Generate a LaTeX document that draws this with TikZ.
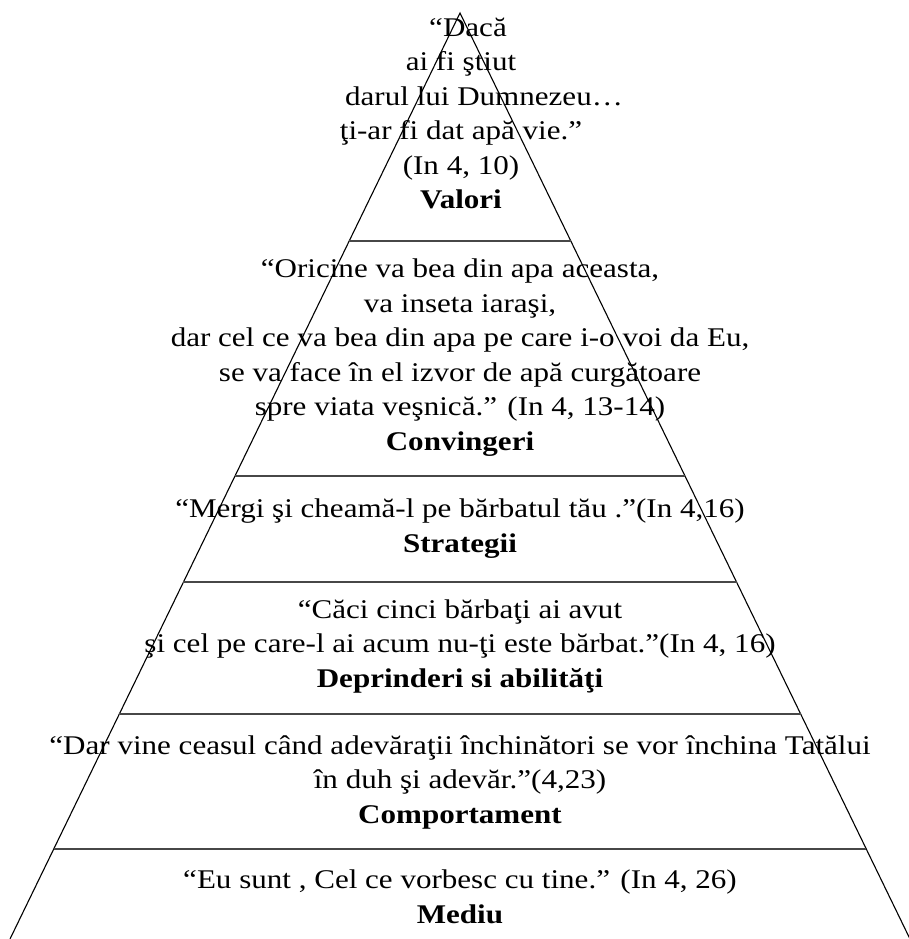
\documentclass[tikz,border=0pt]{standalone}
\usepackage{fontspec}
\setmainfont{Liberation Serif}[FakeStretch=1.15]
\usetikzlibrary{calc}
\tikzset{
  side/.style={line width=1.1pt, black},
  level/.style={line width=1.5pt, black!72},
  txt/.style={align=center, inner sep=0pt, anchor=base, font=\fontsize{27}{34.5}\selectfont}
}
\begin{document}
\begin{tikzpicture}[x=1pt,y=-1pt]
\useasboundingbox (0,0) rectangle (908,939);
\coordinate (apex) at (460,13);
\coordinate (bl) at (10,939);
\coordinate (br) at (910,939);
\draw[side] (bl) -- (apex) -- (br);
\foreach \t/\n in {0.2462/a,0.5/b,0.6145/c,0.757/d,0.9028/e}{
  \coordinate (L\n) at ($(apex)!\t!(bl)$);
  \coordinate (R\n) at ($(apex)!\t!(br)$);
  \draw[level] (L\n) -- (R\n);
}
\node[txt] (valori) at (461,208.5) {\hspace*{14pt}“Dacă\\ai fi ştiut\\\hspace*{46pt}darul lui Dumnezeu…\\ţi-ar fi dat apă vie.”\hspace*{16pt}\\(In 4, 10)\\\textbf{Valori}};
\node[txt] (conv) at (460,450) {“Oricine va bea din apa aceasta,\\va inseta iaraşi,\\dar cel ce va bea din apa pe care i-o voi da Eu,\\se va face în el izvor de apă curgătoare\\spre viata veşnică.” (In 4, 13-14)\\\textbf{Convingeri}};
\node[txt] (strat) at (460,552) {“Mergi şi cheamă-l pe bărbatul tău .”(In 4,16)\\\textbf{Strategii}};
\node[txt] (depr) at (460,687) {“Căci cinci bărbaţi ai avut\\şi cel pe care-l ai acum nu-ţi este bărbat.”(In 4, 16)\\\textbf{Deprinderi si abilităţi}};
\node[txt] (comp) at (460,823) {“Dar vine ceasul când adevăraţii închinători se vor închina Tatălui\\în duh şi adevăr.”(4,23)\\\textbf{Comportament}};
\node[txt] (mediu) at (460,923) {“Eu sunt , Cel ce vorbesc cu tine.” (In 4, 26)\\\textbf{Mediu}};
\end{tikzpicture}
\end{document}
